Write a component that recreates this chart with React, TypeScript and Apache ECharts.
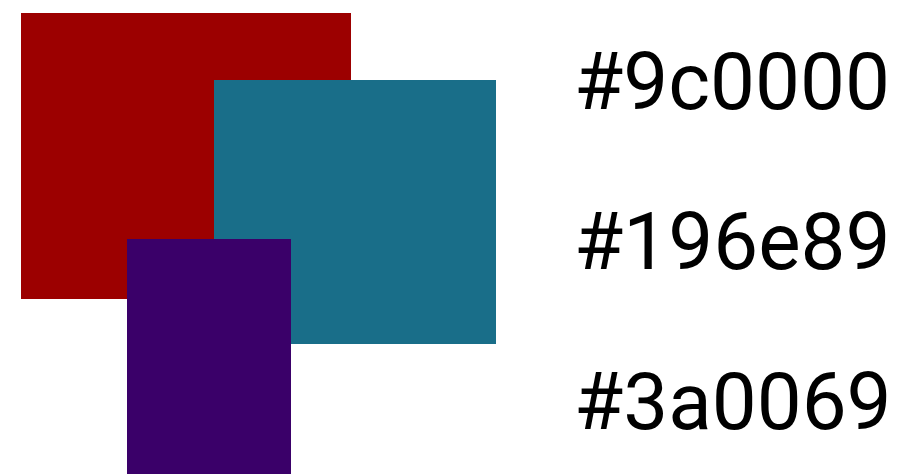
import React, { useEffect, useRef } from "react";
import * as echarts from "echarts";

// Swatch colours (drawn in this order, later ones on top)
const swatchColors = ["#9c0000", "#196e89", "#3a0069"];
// Swatch extents in the hidden value-axis space (0..904 by 0..474, y downwards)
const swatchX0 = [21, 214, 127];
const swatchX1 = [351, 496, 291];
const swatchY0 = [13, 80, 239];
const swatchY1 = [299, 344, 474];
// Labels listed on the right
const labels = ["#9c0000", "#196e89", "#3a0069"];

export default function App() {
  const ref = useRef<HTMLDivElement>(null);
  useEffect(() => {
    if (!ref.current) return;
    const chart = echarts.init(ref.current, undefined, { renderer: "svg" });
    const data = swatchColors.map((c, i) => [swatchX0[i], swatchY0[i], swatchX1[i], swatchY1[i], i]);
    const labelY = [42, 202, 362];
    chart.setOption({
      animation: false,
      backgroundColor: "#ffffff",
      grid: { left: 0, right: 0, top: 0, bottom: 0 },
      xAxis: { type: "value", min: 0, max: 904, show: false },
      yAxis: { type: "value", min: 0, max: 474, inverse: true, show: false },
      series: [
        {
          type: "custom",
          data,
          renderItem: (params: any, api: any) => {
            const p0 = api.coord([api.value(0), api.value(1)]);
            const p1 = api.coord([api.value(2), api.value(3)]);
            const idx = api.value(4);
            return {
              type: "rect",
              shape: { x: p0[0], y: p0[1], width: p1[0] - p0[0], height: p1[1] - p0[1] },
              style: { fill: swatchColors[idx] },
            };
          },
        },
      ],
      graphic: labels.map((t, i) => ({
        type: "text",
        left: 574,
        top: labelY[i],
        style: {
          text: t,
          fill: "#000000",
          font: "400 80px Roboto",
        },
      })),
    });
    return () => chart.dispose();
  }, []);
  return (
    <div
      ref={ref}
      style={{ position: "fixed", left: 0, top: 0, width: 904, height: 474 }}
    />
  );
}
